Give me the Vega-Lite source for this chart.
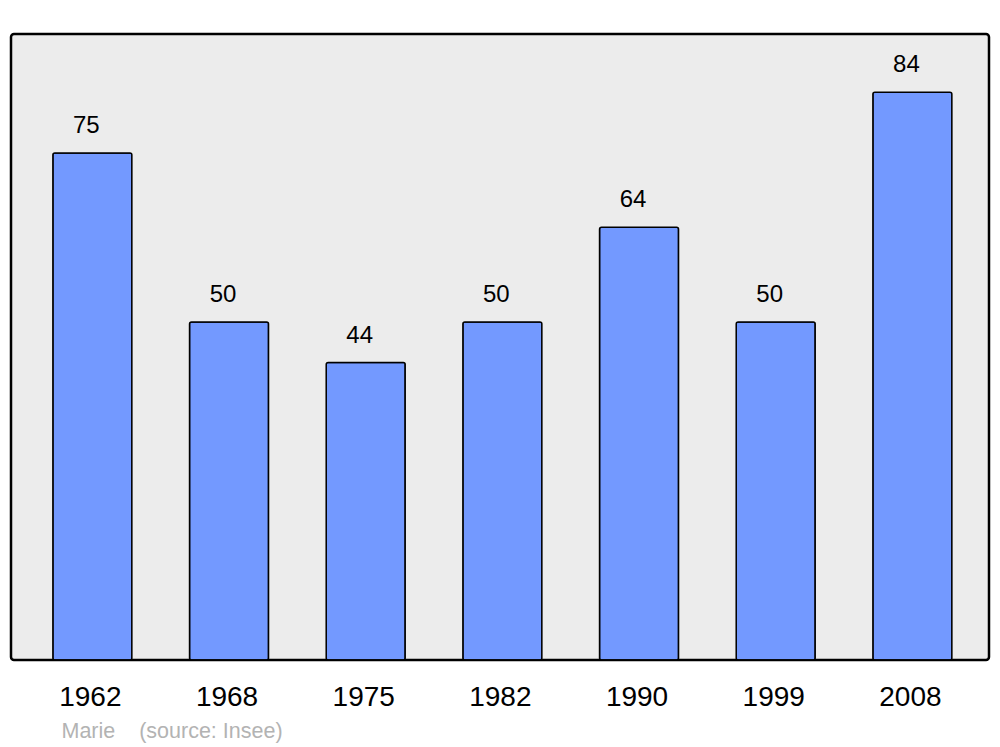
{
  "$schema": "https://vega.github.io/schema/vega-lite/v6.json",
  "width": 978,
  "height": 626,
  "autosize": {"type": "none"},
  "padding": {"left": 11, "top": 34, "right": 11, "bottom": 87},
  "background": "white",
  "config": {
    "view": {"fill": "#ececec", "stroke": "#000000", "strokeWidth": 2.5, "cornerRadius": 3},
    "font": "Liberation Sans"
  },
  "data": {
    "values": [
      {"year": "1962", "pop": 75},
      {"year": "1968", "pop": 50},
      {"year": "1975", "pop": 44},
      {"year": "1982", "pop": 50},
      {"year": "1990", "pop": 64},
      {"year": "1999", "pop": 50},
      {"year": "2008", "pop": 84}
    ]
  },
  "encoding": {
    "x": {
      "field": "year",
      "type": "ordinal",
      "scale": {"paddingInner": 0.422, "paddingOuter": 0.289, "align": 0.53},
      "axis": {
        "domain": false,
        "ticks": false,
        "tickSize": 0,
        "labelAngle": 0,
        "labelFontSize": 28,
        "labelColor": "#000000",
        "labelBaseline": "alphabetic",
        "labelPadding": 45,
        "labelOffset": -2,
        "title": "Marie\u00a0\u00a0\u00a0\u00a0(source: Insee)",
        "titleFontSize": 21.5,
        "titleFontWeight": "normal",
        "titleColor": "#b3b3b3",
        "titleAnchor": "start",
        "titleAlign": "left",
        "titleBaseline": "alphabetic",
        "titleX": 50,
        "titleY": 77
      }
    },
    "y": {
      "field": "pop",
      "type": "quantitative",
      "scale": {"domain": [0, 92.6], "nice": false, "zero": true},
      "axis": null
    }
  },
  "layer": [
    {
      "mark": {"type": "bar", "fill": "#7399ff", "stroke": "#000000", "strokeWidth": 1.5, "cornerRadius": 2}
    },
    {
      "mark": {"type": "text", "fontSize": 24, "color": "#000000", "baseline": "alphabetic", "dy": -20, "dx": -6},
      "encoding": {"text": {"field": "pop", "type": "quantitative"}}
    }
  ]
}
